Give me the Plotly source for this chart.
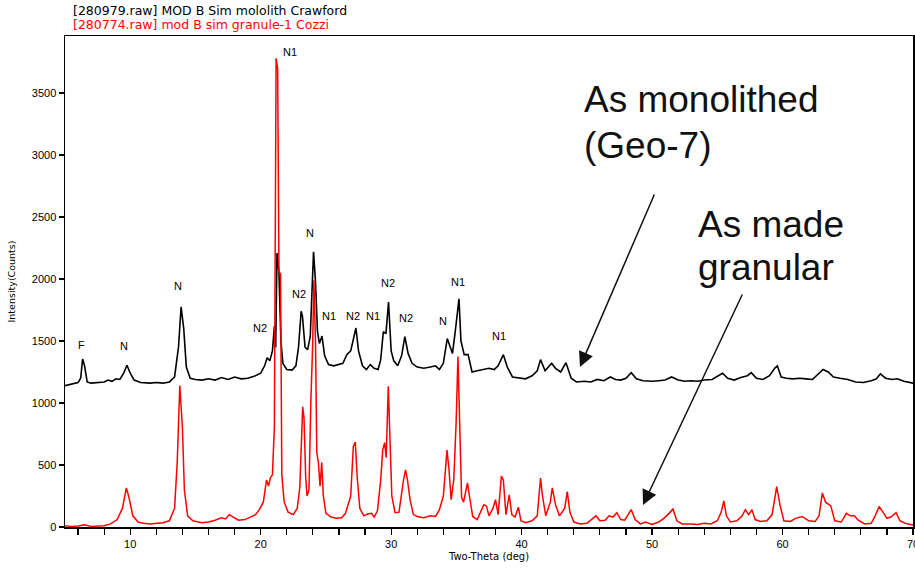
import plotly.graph_objects as go

# ---- data ----
mono_2theta = [5.0, 5.5, 6.0, 6.2, 6.35, 6.5, 6.7, 7.0, 7.5, 8.0, 8.3, 8.6, 8.9, 9.2, 9.5, 9.75, 10.0, 10.3,
               10.8, 11.5, 12.0, 12.5, 13.0, 13.4, 13.7, 13.9, 14.1, 14.3, 14.6, 15.0, 15.5, 16.0, 16.5, 17.0,
               17.5, 18.0, 18.5, 19.0, 19.5, 20.0, 20.3, 20.5, 20.7, 20.9, 21.05, 21.15, 21.25, 21.4, 21.55,
               21.7, 22.0, 22.4, 22.7, 22.9, 23.1, 23.2, 23.4, 23.6, 23.8, 23.9, 24.05, 24.2, 24.35, 24.5, 24.7,
               24.9, 25.2, 25.6, 26.0, 26.3, 26.6, 26.9, 27.3, 27.5, 27.8, 28.1, 28.4, 28.7, 29.0, 29.2, 29.4,
               29.6, 29.8, 30.0, 30.2, 30.5, 30.8, 31.05, 31.3, 31.6, 32.0, 32.5, 33.0, 33.4, 33.7, 34.0, 34.3,
               34.5, 34.7, 34.9, 35.2, 35.35, 35.6, 35.9, 36.2, 36.6, 37.0, 37.5, 37.9, 38.2, 38.6, 38.9, 39.3,
               39.8, 40.3, 40.8, 41.2, 41.45, 41.8, 42.3, 42.6, 43.0, 43.4, 43.8, 44.2, 44.8, 45.3, 45.8, 46.3,
               46.8, 47.2, 47.6, 48.0, 48.4, 48.8, 49.3, 50.0, 50.5, 51.0, 51.5, 52.0, 52.5, 53.0, 53.5, 54.0,
               54.6, 55.4, 55.8, 56.3, 56.8, 57.3, 57.6, 58.0, 58.5, 59.0, 59.4, 59.6, 59.9, 60.3, 60.8, 61.3,
               61.8, 62.3, 62.8, 63.1, 63.5, 63.9, 64.4, 65.0, 65.6, 66.2, 66.8, 67.2, 67.5, 67.9, 68.4, 68.8,
               69.3, 69.7, 70.0]
mono_counts = [1140, 1150, 1165, 1200, 1355, 1300, 1170, 1160, 1165, 1170, 1185, 1175, 1195, 1190, 1240, 1305,
               1240, 1185, 1165, 1160, 1165, 1160, 1170, 1210, 1450, 1775, 1600, 1290, 1200, 1190, 1185, 1195,
               1185, 1205, 1190, 1210, 1195, 1200, 1215, 1240, 1300, 1365, 1340, 1420, 1620, 1450, 2210, 2050,
               1500, 1320, 1270, 1265, 1300, 1450, 1740, 1700, 1450, 1430, 1540, 1780, 2220, 1980, 1580, 1480,
               1540, 1380, 1310, 1300, 1315, 1320, 1390, 1420, 1605, 1420, 1300, 1270, 1310, 1280, 1270, 1350,
               1575, 1560, 1815, 1420, 1340, 1300, 1380, 1535, 1400, 1320, 1290, 1280, 1290, 1300, 1270, 1320,
               1520, 1450, 1400, 1565, 1840, 1500, 1390, 1390, 1250, 1260, 1270, 1280, 1270, 1300, 1390, 1290,
               1210, 1200, 1195, 1220, 1260, 1350, 1260, 1320, 1280, 1250, 1325, 1200, 1170, 1175, 1170, 1190,
               1180, 1210, 1190, 1185, 1200, 1245, 1195, 1180, 1175, 1180, 1185, 1210, 1185, 1175, 1180, 1175,
               1185, 1190, 1240, 1200, 1185, 1205, 1220, 1245, 1200, 1190, 1220, 1280, 1300, 1210, 1200, 1195,
               1200, 1195, 1190, 1240, 1270, 1250, 1210, 1200, 1190, 1170, 1165, 1180, 1195, 1235, 1200, 1190,
               1195, 1175, 1165, 1160]

gran_2theta = [5.0, 5.5, 6.0, 6.5, 7.0, 7.5, 8.0, 8.5, 9.0, 9.4, 9.7, 9.9, 10.2, 10.6, 11.0, 11.5, 12.0, 12.5,
               13.0, 13.4, 13.6, 13.8, 14.0, 14.15, 14.4, 14.8, 15.5, 16.0, 16.5, 17.0, 17.3, 17.6, 17.9, 18.3,
               18.8, 19.2, 19.6, 19.9, 20.2, 20.45, 20.6, 20.75, 20.9, 21.05, 21.18, 21.3, 21.4, 21.52, 21.62,
               21.8, 22.1, 22.5, 22.8, 23.0, 23.12, 23.22, 23.32, 23.45, 23.55, 23.7, 23.85, 23.98, 24.08, 24.2,
               24.3, 24.42, 24.55, 24.68, 24.8, 25.0, 25.4, 25.8, 26.2, 26.5, 26.9, 27.1, 27.25, 27.4, 27.6,
               27.9, 28.2, 28.5, 28.7, 28.95, 29.2, 29.35, 29.5, 29.62, 29.78, 29.9, 30.05, 30.3, 30.6, 30.95,
               31.1, 31.25, 31.45, 31.7, 32.0, 32.5, 33.0, 33.4, 33.7, 34.0, 34.15, 34.28, 34.42, 34.6, 34.8,
               34.98, 35.12, 35.25, 35.4, 35.55, 35.85, 36.0, 36.25, 36.6, 36.9, 37.1, 37.3, 37.5, 37.8, 38.0,
               38.2, 38.45, 38.6, 38.8, 39.05, 39.25, 39.5, 39.75, 39.95, 40.3, 40.8, 41.2, 41.45, 41.6, 41.85,
               42.2, 42.35, 42.6, 42.9, 43.3, 43.5, 43.7, 44.0, 44.5, 45.0, 45.4, 45.7, 46.0, 46.4, 46.7, 47.0,
               47.3, 47.6, 47.9, 48.2, 48.4, 48.7, 49.1, 49.5, 50.0, 50.5, 50.9, 51.3, 51.6, 51.9, 52.3, 53.0,
               53.5, 54.0, 54.5, 55.0, 55.3, 55.5, 55.7, 56.0, 56.5, 56.9, 57.15, 57.4, 57.65, 57.9, 58.3, 58.8,
               59.2, 59.55, 59.8, 60.1, 60.6, 61.0, 61.5, 62.0, 62.5, 62.8, 63.05, 63.3, 63.7, 64.0, 64.5, 64.9,
               65.2, 65.5, 65.8, 66.3, 66.8, 67.1, 67.4, 67.7, 68.0, 68.3, 68.7, 69.0, 69.4, 69.8, 70.0]
gran_counts = [10, 5, 8, 18, 5, 8, 10, 25, 60, 150, 315, 240, 90, 40, 30, 25, 30, 35,
               50, 150, 520, 1140, 800, 300, 90, 50, 35, 40, 55, 75, 65, 100, 80, 55,
               60, 80, 100, 140, 200, 380, 330, 400, 420, 810, 3780, 3700, 2060, 2040, 420,
               200, 120, 100, 150, 320, 650, 970, 880, 400, 250, 300, 1030, 1460, 1990, 1500,
               600, 520, 330, 520, 250, 110, 80, 70, 75, 110, 250, 650, 685, 400, 150,
               90, 105, 110, 80, 130, 380, 620, 680, 560, 1135, 700, 250, 115, 120, 380,
               460, 380, 220, 100, 85, 75, 90, 85, 140, 250, 430, 620, 480, 220, 380,
               840, 1375, 800, 240, 200, 355, 250, 85, 60, 130, 180, 170, 90, 150, 220,
               100, 410, 380, 100, 260, 100, 80, 160, 50, 35, 50, 90, 395, 250, 90,
               200, 315, 180, 90, 150, 285, 120, 40, 25, 30, 60, 90, 50, 55, 90, 80,
               115, 60, 55, 110, 140, 60, 25, 40, 20, 40, 70, 110, 145, 50, 25, 25,
               20, 30, 25, 50, 120, 210, 90, 40, 50, 90, 140, 100, 140, 60, 45, 50,
               100, 325, 180, 50, 45, 70, 85, 50, 45, 90, 275, 200, 170, 50, 40, 110,
               90, 90, 55, 25, 30, 90, 165, 120, 70, 80, 115, 50, 30, 20, 15]

peak_labels = ["F", "N", "N", "N2", "N1", "N2", "N", "N1", "N2", "N1", "N2", "N2", "N", "N1", "N1"]
peak_label_x = [6.3, 9.53, 13.67, 19.97, 22.27, 22.96, 23.8, 25.26, 27.1, 28.64, 29.79, 31.17, 34.0, 35.16, 38.23]
peak_label_y = [1468, 1460, 1944, 1605, 3831, 1879, 2371, 1702, 1702, 1702, 1968, 1686, 1661, 1976, 1540]

legend_lines = ["[280979.raw] MOD B Sim mololith Crawford", "[280774.raw] mod B sim granule-1 Cozzi"]
legend_colors = ["#000000", "#ff0000"]
callout_lines = ["As monolithed", "(Geo-7)", "As made", "granular"]

FONT = "Arial, Liberation Sans, sans-serif"
WIDE = "DejaVu Sans, Verdana, sans-serif"
W, H = 915, 568
# plot area in page pixels: left 65, right 913, top 36, bottom 527
L, T = 65, 36
R = W - 913
B = H - 527
PW, PH = W - L - R, H - T - B


def px(x):           # page pixel -> paper x
    return (x - L) / PW


def py(y):           # page pixel -> paper y
    return (H - B - y) / PH


fig = go.Figure()
fig.add_trace(go.Scatter(x=mono_2theta, y=mono_counts, mode="lines",
                         line=dict(color="#000000", width=1.6), name=legend_lines[0]))
fig.add_trace(go.Scatter(x=gran_2theta, y=gran_counts, mode="lines",
                         line=dict(color="#ff0000", width=1.5), name=legend_lines[1]))

ann = []
for t, x, y in zip(peak_labels, peak_label_x, peak_label_y):
    ann.append(dict(text=t, x=x, y=y, xref="x", yref="y", showarrow=False,
                    font=dict(family=FONT, size=11, color="#000000")))

for i, (t, c) in enumerate(zip(legend_lines, legend_colors)):
    ann.append(dict(text=t, x=px(71), y=py(10 + 14 * i), xref="paper", yref="paper",
                    xanchor="left", yanchor="middle", showarrow=False,
                    font=dict(family=WIDE, size=12.5, color=c)))

callout_pos = [(582, 100), (582, 145), (696, 224), (696, 267)]
for t, (x, y) in zip(callout_lines, callout_pos):
    ann.append(dict(text=t, x=px(x), y=py(y), xref="paper", yref="paper",
                    xanchor="left", yanchor="middle", showarrow=False,
                    font=dict(family=FONT, size=37, color="#111111")))

ann.append(dict(text="", x=px(580), y=py(367), xref="paper", yref="paper",
                ax=75, ay=-174, showarrow=True, arrowhead=2, arrowsize=2.0,
                arrowwidth=1.5, arrowcolor="#111111"))
ann.append(dict(text="", x=px(643), y=py(505), xref="paper", yref="paper",
                ax=100, ay=-212, showarrow=True, arrowhead=2, arrowsize=2.0,
                arrowwidth=1.5, arrowcolor="#111111"))

fig.update_layout(
    width=W, height=H,
    margin=dict(l=L, r=R, t=T, b=B, autoexpand=False),
    paper_bgcolor="white", plot_bgcolor="white",
    showlegend=False,
    hovermode=False,
    annotations=ann,
    font=dict(family=FONT, size=11, color="#000000"),
)
fig.update_xaxes(range=[5, 70], tick0=0, dtick=10, ticks="outside", ticklen=6, tickwidth=1.2,
                 tickcolor="#000000", showline=True, linecolor="#000000", linewidth=1.5, mirror=True,
                 showgrid=False, zeroline=False, ticklabeloverflow="allow", automargin=False,
                 minor=dict(dtick=2, tick0=0, ticks="outside", ticklen=6, tickwidth=1.2, tickcolor="#000000"),
                 tickfont=dict(family=FONT, size=11),
                 title=dict(text="Two-Theta (deg)", font=dict(family=WIDE, size=10), standoff=4))
fig.update_yaxes(range=[0, 3960], tick0=0, dtick=500, ticks="outside", ticklen=5, tickwidth=1.2,
                 tickcolor="#000000", showline=True, linecolor="#000000", linewidth=1.5, mirror=True,
                 showgrid=False, zeroline=False, automargin=False,
                 tickfont=dict(family=FONT, size=11),
                 title=dict(text="Intensity(Counts)", font=dict(family=WIDE, size=9.5), standoff=14))

# remove the default 8px page margin so the figure fills the window exactly
fig.write_html("out.html", config={"displayModeBar": False, "staticPlot": True},
               post_script="document.body.style.margin='0';")
